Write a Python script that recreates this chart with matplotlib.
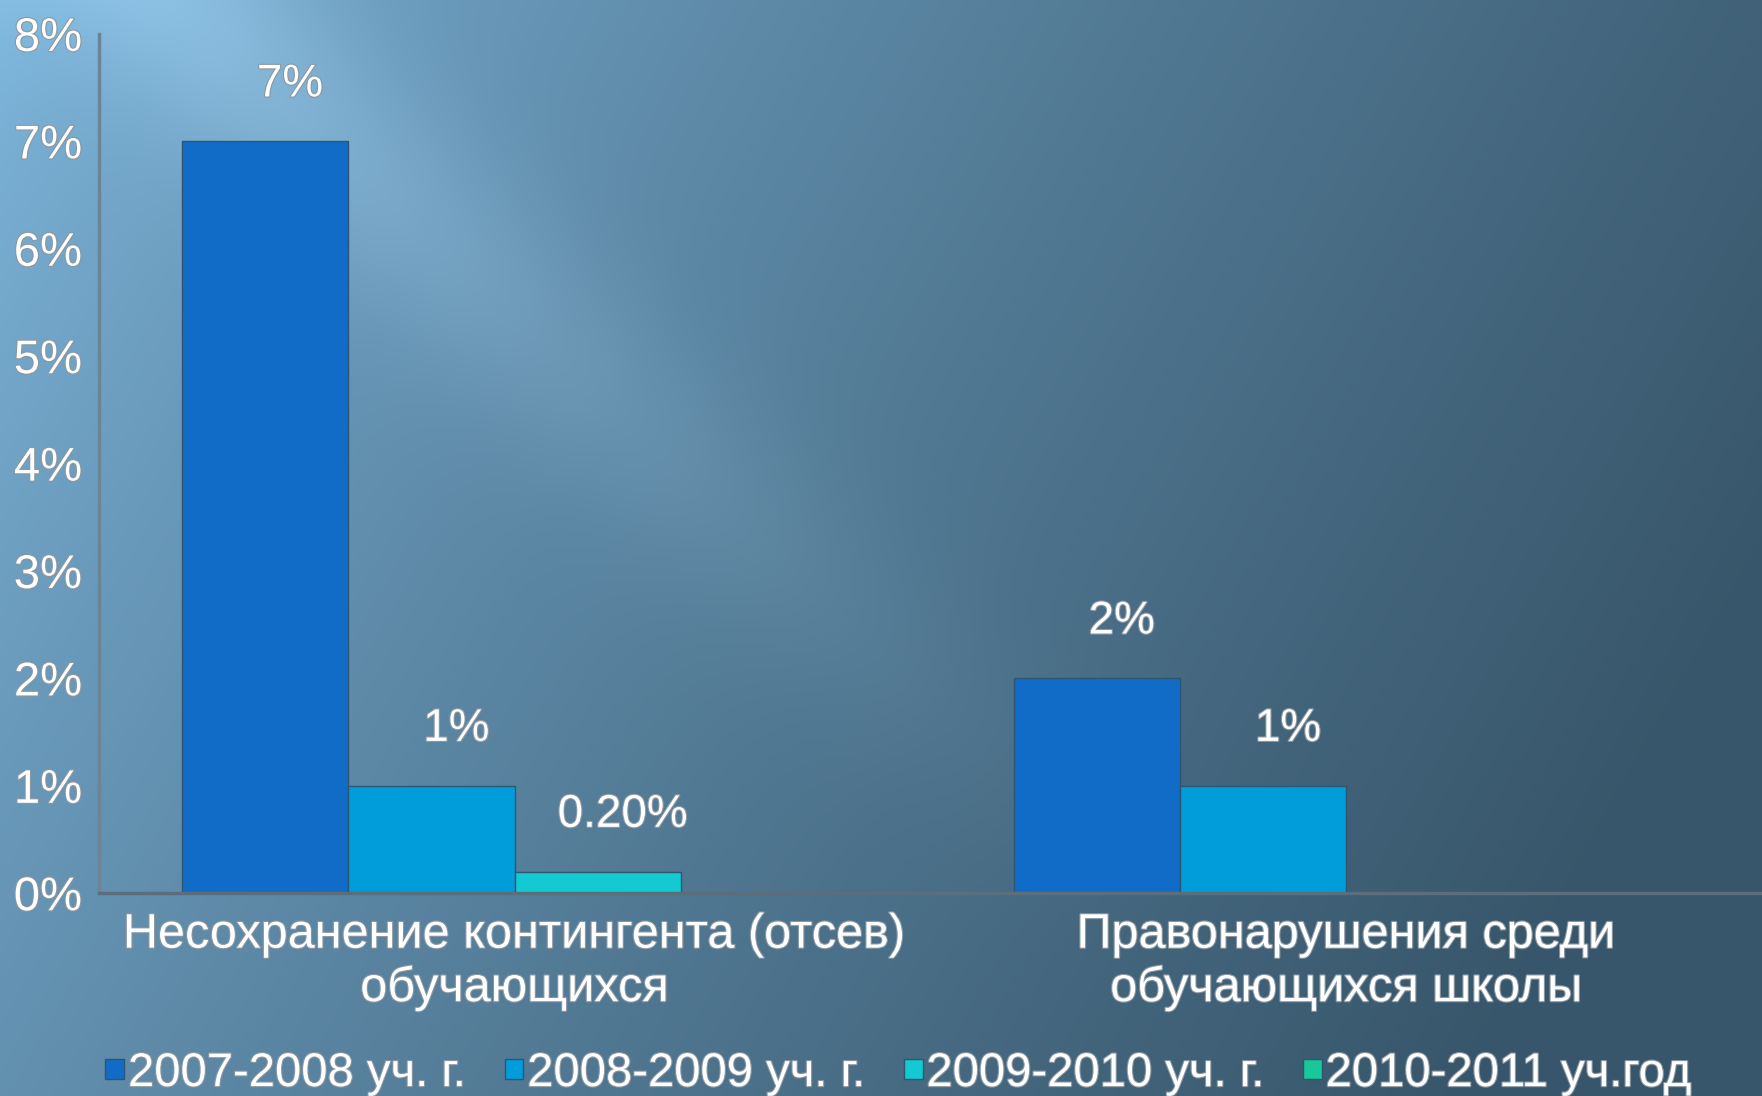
import numpy as np
import matplotlib
matplotlib.use("Agg")
import matplotlib.pyplot as plt
import matplotlib.patheffects as pe

categories = ["Несохранение контингента (отсев)\nобучающихся",
              "Правонарушения среди\nобучающихся школы"]
series = ["2007-2008 уч. г.", "2008-2009 уч. г.",
          "2009-2010 уч. г.", "2010-2011 уч.год"]
values = [
    [7.0, 2.0],
    [1.0, 1.0],
    [0.2, np.nan],
    [np.nan, np.nan],
]
labels = [
    ["7%", "2%"],
    ["1%", "1%"],
    ["0.20%", ""],
    ["", ""],
]
yticks = [0, 1, 2, 3, 4, 5, 6, 7, 8]
colors = ["#106cc6", "#019dda", "#13c9d2", "#18c79c"]

plt.rcParams["font.family"] = ["Liberation Sans", "DejaVu Sans"]

W, H = 1762, 1096
fig = plt.figure(figsize=(W / 100, H / 100), dpi=100)

# background: blue gradient with a soft diagonal light beam
yy, xx = np.mgrid[0:H, 0:W]
u = xx / W
v = yy / H
light = np.array([0.50, 0.72, 0.87])
dark = np.array([0.22, 0.34, 0.42])
t = np.clip(0.85 * u + 0.30 * v, 0, 1) ** 0.75
img = light[None, None, :] * (1 - t[..., None]) + dark[None, None, :] * t[..., None]
# beam along line from (0.10, 0) to (0.60, 0.75)
p0 = np.array([0.10, 0.0])
d = np.array([0.50, 0.75])
d = d / np.hypot(*d)
dist = (u - p0[0]) * d[1] - (v - p0[1]) * d[0]
along = (u - p0[0]) * d[0] + (v - p0[1]) * d[1]
beam = np.exp(-(dist / 0.07) ** 2) * np.clip(1.0 - along, 0, 1)
img = img + 0.09 * beam[..., None]
img = np.clip(img, 0, 1)
bg = fig.add_axes([0, 0, 1, 1], zorder=0)
bg.imshow(img, aspect="auto", interpolation="bilinear")
bg.axis("off")

ax = fig.add_axes([0.056, 0.185, 0.944, 0.784], zorder=1)
ax.patch.set_alpha(0)

text_fx = [pe.withStroke(linewidth=1.6, foreground="#8a97a2")]

x = np.arange(len(categories))
width = 0.2
offsets = [-0.3, -0.1, 0.1, 0.3]
for i, name in enumerate(series):
    vals = np.array(values[i], dtype=float)
    ax.bar(x + offsets[i], np.nan_to_num(vals), width, color=colors[i],
           edgecolor="#2f5670", linewidth=1.0, label=name, zorder=2)
    for j, lab in enumerate(labels[i]):
        if not lab:
            continue
        t = ax.annotate(lab, (x[j] + offsets[i], vals[j]),
                        xytext=(18, 41), textcoords="offset points",
                        ha="center", va="center", fontsize=33,
                        color="white", zorder=3)
        t.set_path_effects(text_fx)

ax.set_xlim(-0.5, 1.5)
ax.set_ylim(0, 8)
ax.set_yticks(yticks)
ax.set_yticklabels([f"{v}%" for v in yticks])
ax.set_xticks(x)
ax.set_xticklabels(categories, linespacing=1.2)
ax.tick_params(length=0, colors="white", labelsize=34)
ax.tick_params(axis="x", labelsize=35, pad=14)
ax.tick_params(axis="y", pad=12)
for lab in ax.get_xticklabels() + ax.get_yticklabels():
    lab.set_path_effects(text_fx)

for s in ("top", "right"):
    ax.spines[s].set_visible(False)
ax.spines["left"].set_color("#6b8597")
ax.spines["bottom"].set_color("#5c6e7a")
ax.spines["left"].set_linewidth(2.5)
ax.spines["bottom"].set_linewidth(2.5)

leg = fig.legend(loc="center", bbox_to_anchor=(0.51, 0.02), ncol=4,
                 frameon=False, fontsize=34, handlelength=0.4,
                 handleheight=0.3, handletextpad=0.08, columnspacing=0.8,
                 borderaxespad=0)
for txt in leg.get_texts():
    txt.set_color("white")
    txt.set_path_effects(text_fx)

fig.savefig("out.png", dpi=100)
